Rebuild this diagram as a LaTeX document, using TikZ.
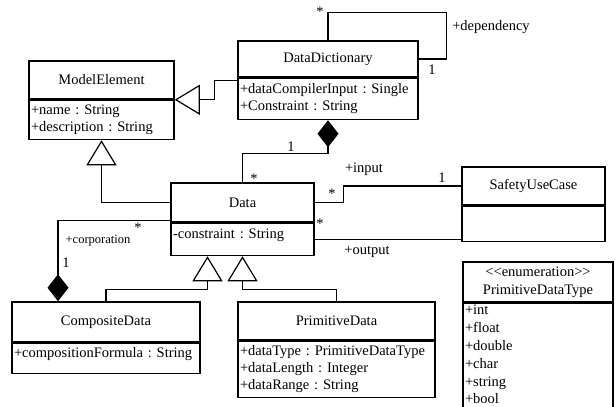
\documentclass[tikz,border=0pt]{standalone}
\usepackage{fontspec}
\setmainfont{Liberation Serif}
\usetikzlibrary{arrows.meta,positioning}
\newcommand{\umlfont}{\fontsize{14.5}{17}\selectfont\frenchspacing}

\begin{document}
\begin{tikzpicture}[x=1pt,y=-1pt,font=\umlfont,
    head/.style={draw,line width=1.5pt,align=center,inner sep=0pt},
    body/.style={draw,line width=1.5pt,anchor=north,align=left,inner xsep=2pt,inner ysep=0pt},
    gen/.style={line width=1.2pt,-{Triangle[open,length=25pt,width=30pt]}},
    comp/.style={line width=1.2pt,-{Diamond[length=27pt,width=21pt]}},
    assoc/.style={line width=1.2pt},
    lbl/.style={inner sep=0pt}]
  \useasboundingbox (0,0) rectangle (616,407);
  % classes
  \node[head,minimum width=145pt,minimum height=38pt] (me-h) at (101.5,80) {ModelElement};
  \node[body,text width=141pt,minimum height=39pt] (me-b) at (me-h.south) {+name : String\\+description : String};
  \node[head,minimum width=180pt,minimum height=36pt] (dd-h) at (328,59) {DataDictionary};
  \node[body,text width=176pt,minimum height=41pt] (dd-b) at (dd-h.south) {+dataCompilerInput : Single\\+Constraint : String};
  \node[head,minimum width=143pt,minimum height=39pt] (data-h) at (242.5,202.5) {Data};
  \node[body,text width=139pt,minimum height=32pt,text height=10pt,text depth=13pt] (data-b) at (data-h.south) {-constraint : String};
  \node[head,minimum width=143pt,minimum height=38pt] (suc-h) at (533.5,186) {SafetyUseCase};
  \node[body,text width=139pt,minimum height=35pt] (suc-b) at (suc-h.south) {};
  \node[head,minimum width=188pt,minimum height=40pt] (cd-h) at (106,322) {CompositeData};
  \node[body,text width=184pt,minimum height=30pt,text height=10pt,text depth=13pt] (cd-b) at (cd-h.south) {+compositionFormula : String};
  \node[head,minimum width=197pt,minimum height=38pt] (pd-h) at (336.5,321) {PrimitiveData};
  \node[body,text width=193pt,minimum height=56pt] (pd-b) at (pd-h.south) {+dataType : PrimitiveDataType\\+dataLength : Integer\\+dataRange : String};
  \node[head,minimum width=150pt,minimum height=40pt,font=\umlfont\fontsize{14.5}{18}\selectfont] (pdt-h) at (538,282) {<\kern0pt<enumeration>\kern0pt>\\PrimitiveDataType};
  \node[body,text width=146pt,minimum height=108pt,text depth=95pt,font=\umlfont\fontsize{14.5}{17.8}\selectfont] (pdt-b) at (pdt-h.south) {+int\\+float\\+double\\+char\\+string\\+bool};
  % relations
  \draw[gen] ([yshift=-3pt]dd-b.north west) -- ++(-23,0) |- (me-b.north east);
  \draw[gen] (data-h.west) -| (me-b.south);
  \draw[comp] (data-h.north) -- ++(0,-29) -| (dd-b.south);
  \draw[assoc] (dd-h.north) -- ++(0,-28) -| ([xshift=28pt]dd-h.east) -- (dd-h.east);
  \draw[assoc] (data-h.east) -- ++(29,0) |- (suc-h.west);
  \draw[assoc] (data-b.east) -- (data-b.east -| suc-b.west);
  \draw[comp] ([yshift=2pt]data-b.north west) -| ([xshift=-48pt]cd-h.north);
  \draw[gen] (cd-h.north) -- ++(0,-12) -| ([xshift=-35pt]data-b.south);
  \draw[gen] (pd-h.north) -- ++(0,-12) -| (data-b.south);
  % multiplicities and roles
  \node[lbl] (m-dep1) at (320,12) {*};
  \node[lbl] (r-dep) at (491,27) {+dependency};
  \node[lbl] (m-dep2) at (432,70) {1};
  \node[lbl] (m-dd) at (291,147) {1};
  \node[lbl] (m-data) at (254,179) {*};
  \node[lbl] (r-in) at (364,169) {+input};
  \node[lbl] (m-in1) at (332,194) {*};
  \node[lbl] (m-in2) at (442,178) {1};
  \node[lbl] (m-out) at (320,224) {*};
  \node[lbl] (r-out) at (367,252) {+output};
  \node[lbl,font=\umlfont\fontsize{12.5}{14}\selectfont] (r-corp) at (98,241) {+corporation};
  \node[lbl] (m-corp1) at (138,228) {*};
  \node[lbl] (m-corp2) at (66,263) {1};
\end{tikzpicture}
\end{document}
